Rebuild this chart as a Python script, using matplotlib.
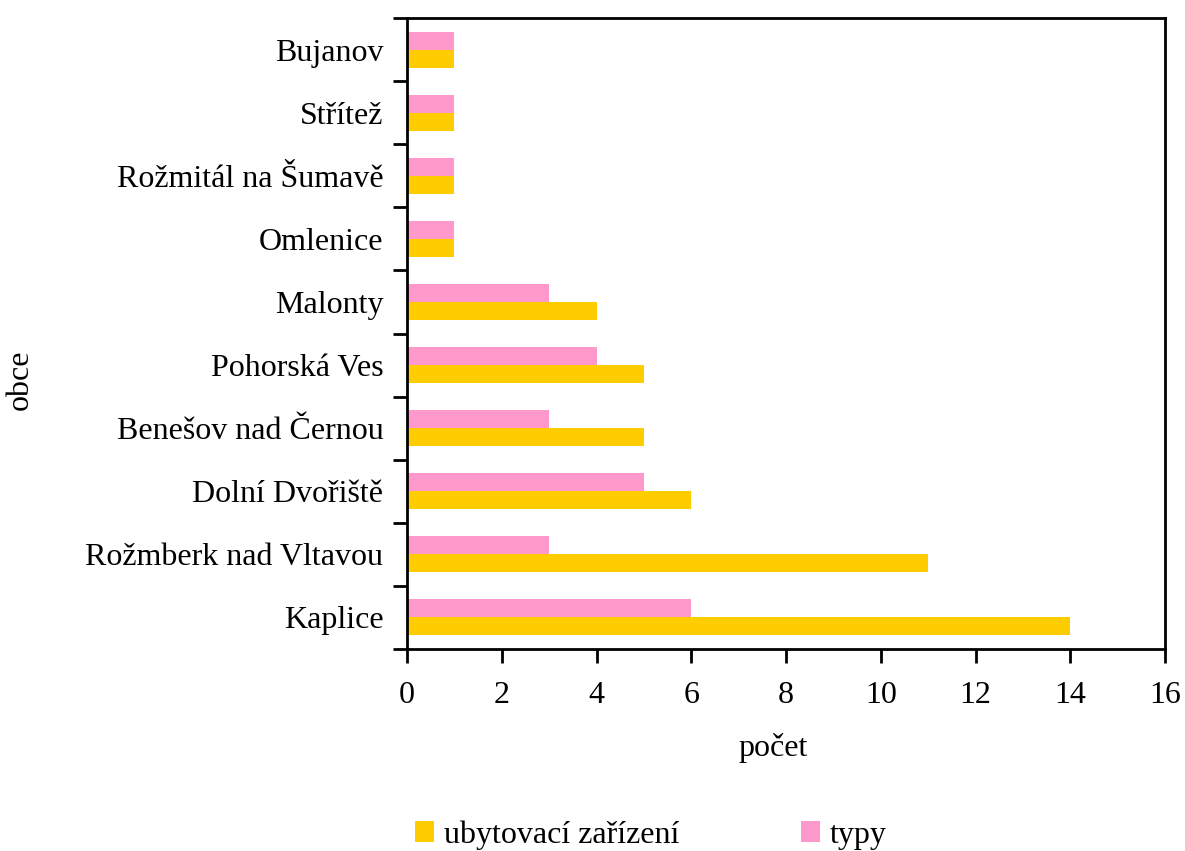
import matplotlib.pyplot as plt
import numpy as np

plt.rcParams['font.family'] = ['Liberation Serif', 'DejaVu Serif']

obce = ["Kaplice", "Rožmberk nad Vltavou", "Dolní Dvořiště", "Benešov nad Černou",
        "Pohorská Ves", "Malonty", "Omlenice", "Rožmitál na Šumavě", "Střítež", "Bujanov"]
ubytovaci = [14, 11, 6, 5, 5, 4, 1, 1, 1, 1]
typy = [6, 3, 5, 3, 4, 3, 1, 1, 1, 1]

W, H = 1185, 851
fs = 23

fig = plt.figure(figsize=(W / 100, H / 100), dpi=100)
ax = fig.add_axes([407 / W, 1 - 649 / H, (1165 - 407) / W, (649 - 18) / H])

y = np.arange(len(obce))
h = 0.285
ax.barh(y - h / 2, ubytovaci, height=h, color="#FFCC00", label="ubytovací zařízení")
ax.barh(y + h / 2, typy, height=h, color="#FF99CC", label="typy")

ax.set_xlim(0, 16)
ax.set_ylim(-0.5, len(obce) - 0.5)
ax.set_xticks(range(0, 17, 2))
ax.set_yticks(y)
ax.set_yticklabels(obce)
ax.set_yticks(np.arange(-0.5, len(obce), 1), minor=True)
ax.tick_params(axis="y", which="major", length=0, pad=17, labelsize=fs)
ax.tick_params(axis="y", which="minor", length=10, width=2)
ax.tick_params(axis="x", length=10, width=2, labelsize=fs, pad=13)
for s in ax.spines.values():
    s.set_linewidth(2)

fig.text(773 / W, 1 - 748 / H, "počet", fontsize=fs, ha="center", va="center")
fig.text(20 / W, 1 - 380 / H, "obce", fontsize=fs, ha="center", va="center", rotation=90)

fig.legend(loc="center left", bbox_to_anchor=(415 / W, 1 - 835 / H), ncol=2, frameon=False,
           fontsize=fs, handlelength=0.6, handleheight=0.6, handletextpad=0.3,
           columnspacing=3.8, borderpad=0, borderaxespad=0)

fig.savefig("out.png", dpi=100)
